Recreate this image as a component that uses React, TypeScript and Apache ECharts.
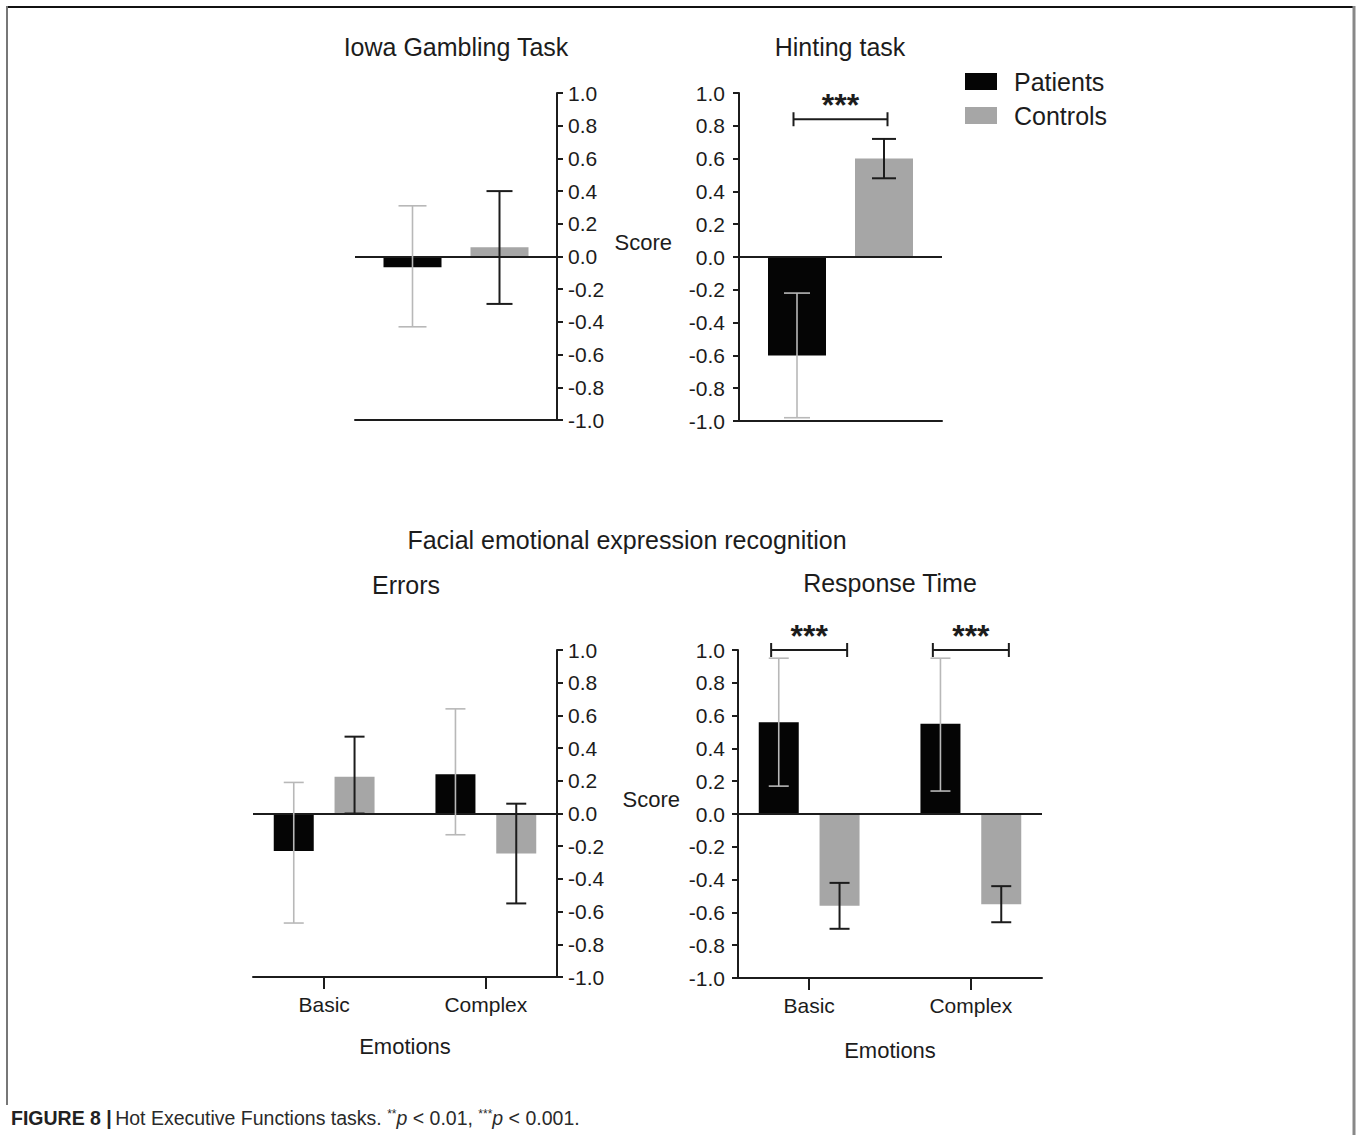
import { useEffect, useRef } from 'react';
import * as echarts from 'echarts';

// ---- data ----
const groups = ['Patients', 'Controls'];

const scoreMin = -1;
const scoreMax = 1;
const scoreStep = 0.2;

// Iowa Gambling Task (one group of two bars)
const iowaMean = [-0.065, 0.057];
const iowaLow = [-0.43, -0.29];
const iowaHigh = [0.31, 0.4];

// Hinting task
const hintingMean = [-0.6, 0.6];
const hintingLow = [-0.98, 0.48];
const hintingHigh = [-0.22, 0.72];
const hintingSigLevel = [0.84];
const hintingSigLabel = ['***'];

// Facial emotional expression recognition
const emotionCategories = ['Basic', 'Complex'];
const emotionPositions = [1, 2];

// Errors
const errorsPatients = [-0.23, 0.24];
const errorsPatientsLow = [-0.67, -0.13];
const errorsPatientsHigh = [0.19, 0.64];
const errorsControls = [0.225, -0.245];
const errorsControlsLow = [0.0, -0.55];
const errorsControlsHigh = [0.47, 0.06];

// Response Time
const rtPatients = [0.56, 0.55];
const rtPatientsLow = [0.17, 0.14];
const rtPatientsHigh = [0.95, 0.95];
const rtControls = [-0.56, -0.55];
const rtControlsLow = [-0.7, -0.66];
const rtControlsHigh = [-0.42, -0.44];
const rtSigLevel = [1.0, 1.0];
const rtSigLabel = ['***', '***'];

// ---- style ----
const FONT = '"Liberation Sans", Arial, Helvetica, sans-serif';
const ink = '#1c1c1c';
const patientsColor = '#050505';
const controlsColor = '#a6a6a6';
const patientsErrColor = '#b8b8b8';
const controlsErrColor = '#1c1c1c';

const topBarWidth = 58;
const topBarGap = 50; // percent of bar width
const bottomBarWidth = 40;
const bottomBarGap = 52;

const topOffset = (topBarWidth * (1 + topBarGap / 100)) / 2;
const bottomOffset = (bottomBarWidth * (1 + bottomBarGap / 100)) / 2;

const fmtTick = (v: number) => (Math.abs(v) < 1e-9 ? '0.0' : v.toFixed(1));

function errorBarItem(offset: number, halfCap: number, color: string, width: number) {
  return (params: any, api: any) => {
    const x = api.value(0);
    const lo = api.coord([x, api.value(1)]);
    const hi = api.coord([x, api.value(2)]);
    const cx = lo[0] + offset;
    const style = { stroke: color, lineWidth: width };
    return {
      type: 'group',
      children: [
        { type: 'line', shape: { x1: cx, y1: hi[1], x2: cx, y2: lo[1] }, style },
        { type: 'line', shape: { x1: cx - halfCap, y1: hi[1], x2: cx + halfCap, y2: hi[1] }, style },
        { type: 'line', shape: { x1: cx - halfCap, y1: lo[1], x2: cx + halfCap, y2: lo[1] }, style },
      ],
    };
  };
}

function bracketItem(halfWidth: number, labels: string[]) {
  return (params: any, api: any) => {
    const p = api.coord([api.value(0), api.value(1)]);
    const cx = p[0];
    const cy = p[1];
    const style = { stroke: ink, lineWidth: 2 };
    return {
      type: 'group',
      children: [
        { type: 'line', shape: { x1: cx - halfWidth, y1: cy, x2: cx + halfWidth, y2: cy }, style },
        { type: 'line', shape: { x1: cx - halfWidth, y1: cy - 7, x2: cx - halfWidth, y2: cy + 7 }, style },
        { type: 'line', shape: { x1: cx + halfWidth, y1: cy - 7, x2: cx + halfWidth, y2: cy + 7 }, style },
        {
          type: 'text',
          x: cx,
          y: cy - 14,
          style: {
            text: labels[params.dataIndex],
            fill: ink,
            fontSize: 32,
            fontWeight: 'bold',
            fontFamily: FONT,
            align: 'center',
            verticalAlign: 'middle',
          },
        },
      ],
    };
  };
}

function scoreAxis(gridIndex: number, position: 'left' | 'right', margin: number, extra: any = {}) {
  return {
    type: 'value',
    gridIndex,
    position,
    min: scoreMin,
    max: scoreMax,
    interval: scoreStep,
    axisLine: { show: true, onZero: false, lineStyle: { color: ink, width: 2 } },
    axisTick: { show: true, length: 6, lineStyle: { color: ink, width: 2 } },
    axisLabel: { margin, fontSize: 21, color: ink, fontFamily: FONT, formatter: fmtTick },
    splitLine: { show: false },
    ...extra,
  };
}

const zeroLine = {
  silent: true,
  symbol: 'none',
  label: { show: false },
  lineStyle: { color: ink, width: 2, type: 'solid' },
  data: [{ yAxis: 0 }],
};

const scoreName = (gap: number) => ({
  name: 'Score',
  nameLocation: 'middle',
  nameRotate: 0,
  nameGap: gap,
  nameTextStyle: {
    fontSize: 22,
    color: ink,
    fontFamily: FONT,
    align: 'right',
    verticalAlign: 'bottom',
    padding: [0, 0, 4, 0],
  },
});

function emotionAxis(gridIndex: number, nameGap: number) {
  return {
    type: 'value',
    gridIndex,
    min: 0.56,
    max: 2.44,
    axisLine: { show: true, onZero: false, lineStyle: { color: ink, width: 2 } },
    axisTick: { show: true, customValues: emotionPositions, length: 12, lineStyle: { color: ink, width: 2 } },
    axisLabel: {
      show: true,
      customValues: emotionPositions,
      margin: 17,
      fontSize: 21,
      color: ink,
      fontFamily: FONT,
      formatter: (v: number) => emotionCategories[emotionPositions.indexOf(v)] ?? '',
    },
    splitLine: { show: false },
    name: 'Emotions',
    nameLocation: 'middle',
    nameGap,
    nameTextStyle: { fontSize: 22, color: ink, fontFamily: FONT },
  };
}

function plainCategoryAxis(gridIndex: number, label: string) {
  return {
    type: 'category',
    gridIndex,
    data: [label],
    axisLine: { show: true, onZero: false, lineStyle: { color: ink, width: 2 } },
    axisTick: { show: false },
    axisLabel: { show: false },
    splitLine: { show: false },
  };
}

const titleText = (text: string, x: number, y: number) => ({
  type: 'text',
  x,
  y,
  style: { text, fill: ink, fontSize: 25, fontFamily: FONT, align: 'center', verticalAlign: 'middle' },
});

function buildOption() {
  const pair = (xs: number[], ys: number[]) => xs.map((x, i) => [x, ys[i]]);
  const triple = (xs: number[], lo: number[], hi: number[]) => xs.map((x, i) => [x, lo[i], hi[i]]);

  return {
    animation: false,
    backgroundColor: '#ffffff',
    textStyle: { fontFamily: FONT },
    legend: {
      data: groups,
      orient: 'vertical',
      left: 960,
      top: 64,
      itemWidth: 32,
      itemHeight: 17,
      itemGap: 9,
      icon: 'rect',
      selectedMode: false,
      textStyle: { fontSize: 25, color: ink, fontFamily: FONT, padding: [0, 0, 0, 12] },
    },
    grid: [
      { left: 355, top: 93, width: 202, height: 327 },
      { left: 739, top: 93, width: 203, height: 328 },
      { left: 253, top: 650, width: 304, height: 327 },
      { left: 738, top: 650, width: 304, height: 328 },
    ],
    xAxis: [
      plainCategoryAxis(0, 'IGT'),
      plainCategoryAxis(1, 'Hinting'),
      emotionAxis(2, 58),
      emotionAxis(3, 61),
    ],
    yAxis: [
      scoreAxis(0, 'right', 11),
      scoreAxis(1, 'left', 14, scoreName(67)),
      scoreAxis(2, 'right', 11),
      scoreAxis(3, 'left', 13, scoreName(58)),
    ],
    graphic: [
      // figure frame
      { type: 'line', shape: { x1: 7, y1: 7, x2: 1354, y2: 7 }, style: { stroke: '#111', lineWidth: 2 } },
      { type: 'line', shape: { x1: 7, y1: 6, x2: 7, y2: 1105 }, style: { stroke: '#777', lineWidth: 2 } },
      { type: 'line', shape: { x1: 1354, y1: 6, x2: 1354, y2: 1135 }, style: { stroke: '#888', lineWidth: 3 } },
      titleText('Iowa Gambling Task', 456, 47),
      titleText('Hinting task', 840, 47),
      titleText('Facial emotional expression recognition', 627, 540),
      titleText('Errors', 406, 585),
      titleText('Response Time', 890, 583),
      {
        type: 'text',
        x: 11,
        y: 1118,
        style: {
          text: '{b|FIGURE 8 |} {n|Hot Executive Functions tasks. }{s|**}{i|p}{n| < 0.01, }{s|***}{i|p}{n| < 0.001.}',
          verticalAlign: 'middle',
          rich: {
            b: { fontSize: 19.5, fontWeight: 'bold', fill: '#222', fontFamily: FONT },
            n: { fontSize: 19.5, fill: '#2a2a2a', fontFamily: FONT },
            i: { fontSize: 19.5, fontStyle: 'italic', fill: '#2a2a2a', fontFamily: FONT },
            s: { fontSize: 12, fill: '#2a2a2a', fontFamily: FONT, verticalAlign: 'top' },
          },
        },
      },
    ],
    series: [
      // Iowa Gambling Task
      {
        name: 'Patients', type: 'bar', xAxisIndex: 0, yAxisIndex: 0,
        data: [iowaMean[0]], barWidth: topBarWidth, barGap: `${topBarGap}%`,
        itemStyle: { color: patientsColor }, markLine: zeroLine,
      },
      {
        name: 'Controls', type: 'bar', xAxisIndex: 0, yAxisIndex: 0,
        data: [iowaMean[1]], barWidth: topBarWidth, barGap: `${topBarGap}%`,
        itemStyle: { color: controlsColor },
      },
      {
        name: 'Patients SD', type: 'custom', xAxisIndex: 0, yAxisIndex: 0, z: 5,
        data: [[0, iowaLow[0], iowaHigh[0]]], encode: { x: 0, y: [1, 2] },
        renderItem: errorBarItem(-topOffset, 14, patientsErrColor, 1.6),
      },
      {
        name: 'Controls SD', type: 'custom', xAxisIndex: 0, yAxisIndex: 0, z: 5,
        data: [[0, iowaLow[1], iowaHigh[1]]], encode: { x: 0, y: [1, 2] },
        renderItem: errorBarItem(topOffset, 13, controlsErrColor, 2),
      },
      // Hinting task
      {
        name: 'Patients', type: 'bar', xAxisIndex: 1, yAxisIndex: 1,
        data: [hintingMean[0]], barWidth: topBarWidth, barGap: `${topBarGap}%`,
        itemStyle: { color: patientsColor }, markLine: zeroLine,
      },
      {
        name: 'Controls', type: 'bar', xAxisIndex: 1, yAxisIndex: 1,
        data: [hintingMean[1]], barWidth: topBarWidth, barGap: `${topBarGap}%`,
        itemStyle: { color: controlsColor },
      },
      {
        name: 'Patients SD', type: 'custom', xAxisIndex: 1, yAxisIndex: 1, z: 5,
        data: [[0, hintingLow[0], hintingHigh[0]]], encode: { x: 0, y: [1, 2] },
        renderItem: errorBarItem(-topOffset, 13, patientsErrColor, 1.6),
      },
      {
        name: 'Controls SD', type: 'custom', xAxisIndex: 1, yAxisIndex: 1, z: 5,
        data: [[0, hintingLow[1], hintingHigh[1]]], encode: { x: 0, y: [1, 2] },
        renderItem: errorBarItem(topOffset, 12, controlsErrColor, 2),
      },
      {
        name: 'Significance', type: 'custom', xAxisIndex: 1, yAxisIndex: 1, z: 5, clip: false,
        data: hintingSigLevel.map((l) => [0, l]), encode: { x: 0, y: 1 },
        renderItem: bracketItem(47, hintingSigLabel),
      },
      // Errors
      {
        name: 'Patients', type: 'bar', xAxisIndex: 2, yAxisIndex: 2,
        data: pair(emotionPositions, errorsPatients), barWidth: bottomBarWidth, barGap: `${bottomBarGap}%`,
        itemStyle: { color: patientsColor }, markLine: zeroLine,
      },
      {
        name: 'Controls', type: 'bar', xAxisIndex: 2, yAxisIndex: 2,
        data: pair(emotionPositions, errorsControls), barWidth: bottomBarWidth, barGap: `${bottomBarGap}%`,
        itemStyle: { color: controlsColor },
      },
      {
        name: 'Patients SD', type: 'custom', xAxisIndex: 2, yAxisIndex: 2, z: 5,
        data: triple(emotionPositions, errorsPatientsLow, errorsPatientsHigh), encode: { x: 0, y: [1, 2] },
        renderItem: errorBarItem(-bottomOffset, 10, patientsErrColor, 1.6),
      },
      {
        name: 'Controls SD', type: 'custom', xAxisIndex: 2, yAxisIndex: 2, z: 5,
        data: triple(emotionPositions, errorsControlsLow, errorsControlsHigh), encode: { x: 0, y: [1, 2] },
        renderItem: errorBarItem(bottomOffset, 10, controlsErrColor, 2),
      },
      // Response Time
      {
        name: 'Patients', type: 'bar', xAxisIndex: 3, yAxisIndex: 3,
        data: pair(emotionPositions, rtPatients), barWidth: bottomBarWidth, barGap: `${bottomBarGap}%`,
        itemStyle: { color: patientsColor }, markLine: zeroLine,
      },
      {
        name: 'Controls', type: 'bar', xAxisIndex: 3, yAxisIndex: 3,
        data: pair(emotionPositions, rtControls), barWidth: bottomBarWidth, barGap: `${bottomBarGap}%`,
        itemStyle: { color: controlsColor },
      },
      {
        name: 'Patients SD', type: 'custom', xAxisIndex: 3, yAxisIndex: 3, z: 5,
        data: triple(emotionPositions, rtPatientsLow, rtPatientsHigh), encode: { x: 0, y: [1, 2] },
        renderItem: errorBarItem(-bottomOffset, 10, patientsErrColor, 1.6),
      },
      {
        name: 'Controls SD', type: 'custom', xAxisIndex: 3, yAxisIndex: 3, z: 5,
        data: triple(emotionPositions, rtControlsLow, rtControlsHigh), encode: { x: 0, y: [1, 2] },
        renderItem: errorBarItem(bottomOffset, 10, controlsErrColor, 2),
      },
      {
        name: 'Significance', type: 'custom', xAxisIndex: 3, yAxisIndex: 3, z: 5, clip: false,
        data: emotionPositions.map((x, i) => [x, rtSigLevel[i]]), encode: { x: 0, y: 1 },
        renderItem: bracketItem(38, rtSigLabel),
      },
    ],
  };
}

export default function App() {
  const ref = useRef<HTMLDivElement>(null);
  useEffect(() => {
    if (!ref.current) return;
    const chart = echarts.init(ref.current, undefined, { renderer: 'svg' });
    chart.setOption(buildOption() as any);
    return () => chart.dispose();
  }, []);
  return (
    <div
      ref={ref}
      style={{ position: 'absolute', left: 0, top: 0, width: 1356, height: 1135, background: '#fff' }}
    />
  );
}
